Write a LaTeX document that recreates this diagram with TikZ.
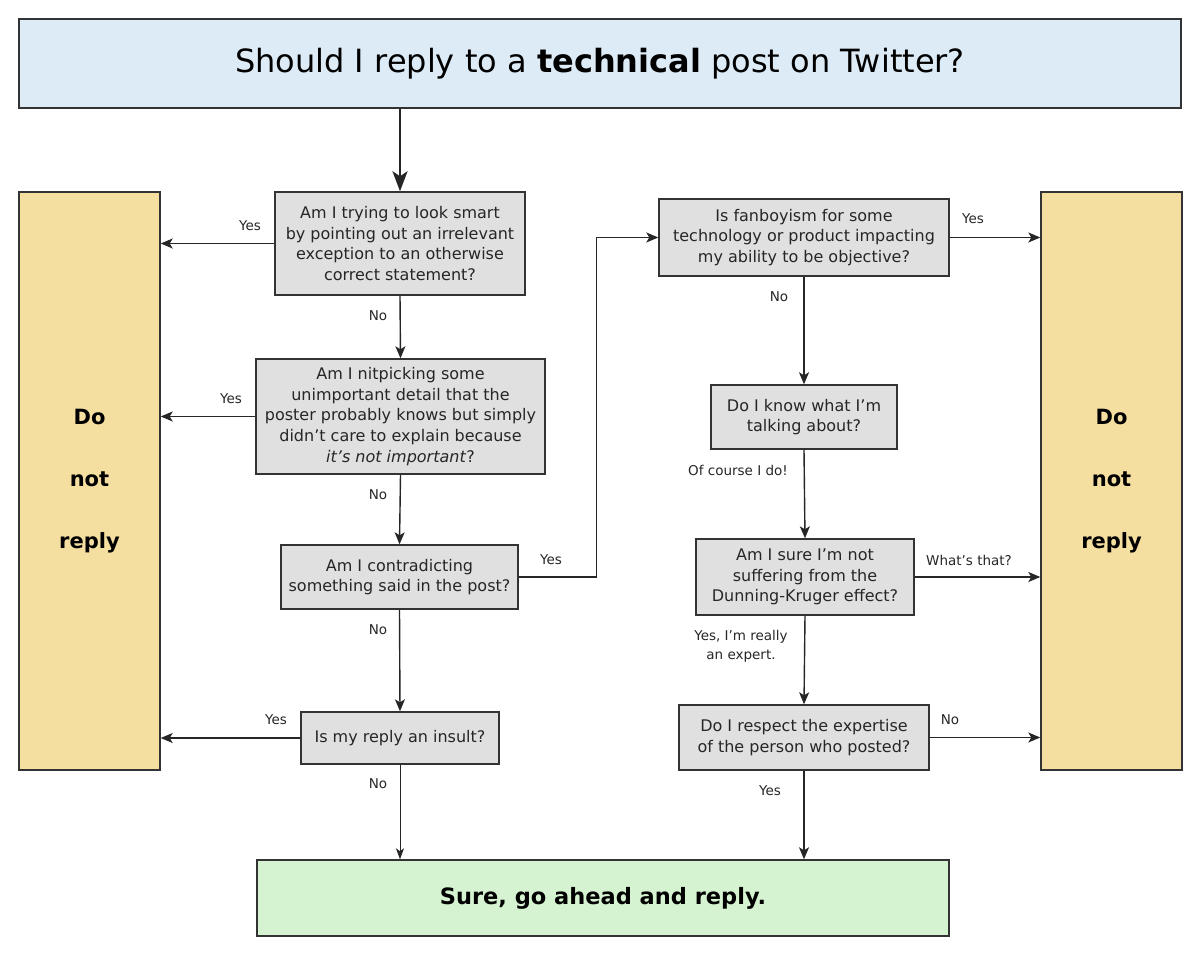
\documentclass[tikz,border=0pt]{standalone}
\usepackage{fontspec}
\setmainfont{DejaVu Sans}
\usetikzlibrary{arrows.meta,positioning,calc}
\definecolor{titlebg}{HTML}{DDEBF6}
\definecolor{wheatbg}{HTML}{F5DFA0}
\definecolor{greenbg}{HTML}{D5F3D0}
\definecolor{qbg}{HTML}{E0E0E0}
\definecolor{edge}{HTML}{333333}
\tikzset{
  qbox/.style={draw=edge, line width=1.4pt, fill=qbg, align=center, inner sep=0pt,
    font=\fontsize{16}{20.6}\selectfont, text=black!85},
  bigbox/.style={draw=edge, line width=1.4pt, inner sep=0pt, align=center},
  lbl/.style={font=\fontsize{13.5}{16}\selectfont, text=black!85, inner sep=0pt, align=center},
  arr/.style={draw=black!85, line width=1.4pt, -{Stealth[length=12pt,width=10pt,inset=3pt]}},
}
\begin{document}
\begin{tikzpicture}[x=1pt,y=-1pt]
\useasboundingbox (0,0) rectangle (1200,957);
% big boxes
\node[bigbox, fill=titlebg, minimum width=1162pt, minimum height=89pt,
  font=\fontsize{32}{36}\selectfont] (title) at (600,63.5)
  {Should I reply to a \textbf{technical} post on Twitter?};
\node[bigbox, fill=wheatbg, minimum width=141pt, minimum height=578pt,
  font=\bfseries\fontsize{21}{62}\selectfont] (lnr) at (89.5,481) {Do\\not\\reply};
\node[bigbox, fill=wheatbg, minimum width=141pt, minimum height=578pt,
  font=\bfseries\fontsize{21}{62}\selectfont] (rnr) at (1111.5,481) {Do\\not\\reply};
\node[bigbox, fill=greenbg, minimum width=692pt, minimum height=76pt,
  font=\bfseries\fontsize{22.5}{26}\selectfont] (final) at (603,898) {Sure, go ahead and reply.};
% questions
\node[qbox, minimum width=250pt, minimum height=103pt] (q1) at (400,243.5)
  {Am I trying to look smart\\by pointing out an irrelevant\\exception to an otherwise\\correct statement?};
\node[qbox, minimum width=289pt, minimum height=115pt] (q2) at (400.5,416.5)
  {Am I nitpicking some\\unimportant detail that the\\poster probably knows but simply\\didn’t care to explain because\\\textit{it’s not important}?};
\node[qbox, minimum width=237pt, minimum height=64pt] (q3) at (399.5,577)
  {Am I contradicting\\something said in the post?};
\node[qbox, minimum width=198pt, minimum height=52pt] (q4) at (400,738)
  {Is my reply an insult?};
\node[qbox, minimum width=290pt, minimum height=77pt] (q5) at (804,237.5)
  {Is fanboyism for some\\technology or product impacting\\my ability to be objective?};
\node[qbox, minimum width=186pt, minimum height=64pt] (q6) at (804,417)
  {Do I know what I’m\\talking about?};
\node[qbox, minimum width=218pt, minimum height=76pt] (q7) at (805,577)
  {Am I sure I’m not\\suffering from the\\Dunning-Kruger effect?};
\node[qbox, minimum width=250pt, minimum height=65pt] (q8) at (804,737.5)
  {Do I respect the expertise\\of the person who posted?};
% connectors
\draw[draw=black!85, line width=2.6pt, -{Stealth[length=20pt,width=15pt,inset=5pt]}] (title.south -| q1.north) -- (q1.north);
\draw[arr] (q1.west) -- (q1.west -| lnr.east);
\draw[arr] (q1.south) -- (q2.north);
\draw[arr] (q2.west) -- (q2.west -| lnr.east);
\draw[arr] (q2.south) -- (q3.north);
\draw[arr] (q3.east) -- ([xshift=78pt]q3.east) |- (q5.west);
\draw[arr] (q3.south) -- (q4.north);
\draw[arr] (q4.west) -- (q4.west -| lnr.east);
\draw[draw=black!85, line width=0.8pt, -{Stealth[length=11pt,width=8pt,inset=3pt]}] (q4.south) -- (q4.south |- final.north);
\draw[arr] (q5.east) -- (q5.east -| rnr.west);
\draw[arr] (q5.south) -- (q6.north);
\draw[arr] (q6.south) -- (q7.north);
\draw[arr] (q7.east) -- (q7.east -| rnr.west);
\draw[arr] (q7.south) -- (q8.north);
\draw[arr] (q8.east) -- (q8.east -| rnr.west);
\draw[arr] (q8.south) -- (q8.south |- final.north);
% labels
\node[lbl] (l1) at (250,226) {Yes};
\node[lbl] (l2) at (378,316) {No};
\node[lbl] (l3) at (231,399) {Yes};
\node[lbl] (l4) at (378,495) {No};
\node[lbl] (l5) at (551,560) {Yes};
\node[lbl] (l6) at (378,630) {No};
\node[lbl] (l7) at (276,720) {Yes};
\node[lbl] (l8) at (378,784) {No};
\node[lbl] (l9) at (973,219) {Yes};
\node[lbl] (l10) at (779,297) {No};
\node[lbl] (l11) at (738,470) {Of course I do!};
\node[lbl] (l12) at (969,560) {What’s that?};
\node[lbl, font=\fontsize{13.5}{19}\selectfont] (l13) at (741,646) {Yes, I’m really\\an expert.};
\node[lbl] (l14) at (950,720) {No};
\node[lbl] (l15) at (770,791) {Yes};
\end{tikzpicture}
\end{document}
